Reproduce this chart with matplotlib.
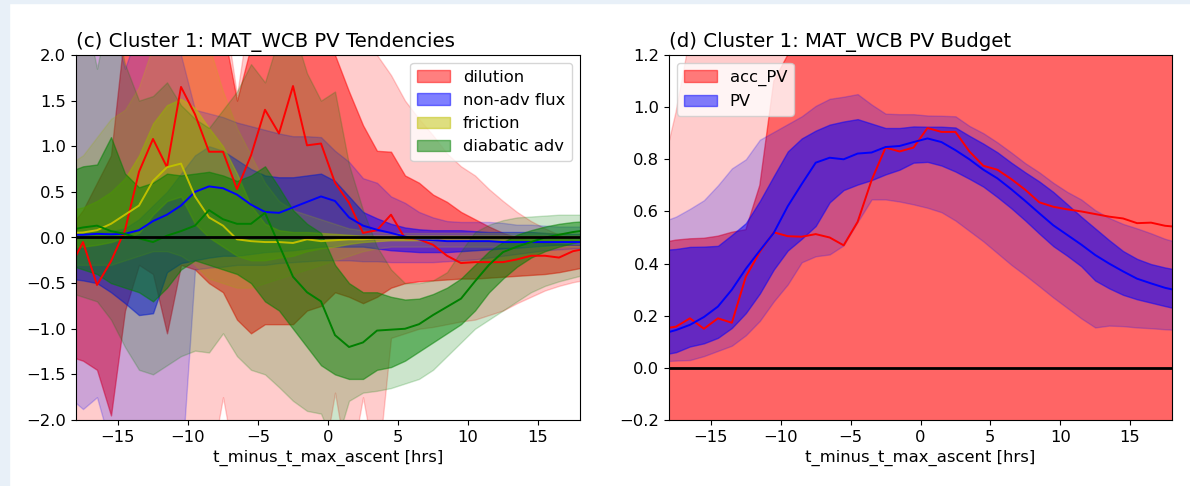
import numpy as np
import matplotlib
matplotlib.use('Agg')
import matplotlib.pyplot as plt
from matplotlib.patches import Rectangle

# hours relative to time of max ascent (bin centres)
hrs = np.arange(-18.5, 19.0, 1.0)

# ---- panel (c): PV tendencies, median + inner/outer percentile bands ----
dil_med = [-0.35, -0.05, -0.52, -0.26, 0.08, 0.72, 1.08, 0.77, 1.65, 1.35, 0.94, 0.94, 0.53, 0.9, 1.4, 1.14, 1.66, 1.01, 1.03,
           0.6, 0.38, 0.05, 0.08, 0.25, -0.01, -0.02, -0.08, -0.2, -0.28, -0.27, -0.27, -0.27, -0.24, -0.2, -0.2, -0.22, -0.15, -0.12]
dil_in_hi = [0.1, 0.3, 0.6, 0.9, 2.3, 2.6, 2.4, 2.5, 2.6, 2.6, 2.5, 2.3, 1.5, 2.1, 2.4, 2.3, 2.4, 2.3, 2.2,
             2.0, 1.6, 1.23, 0.95, 0.94, 0.68, 0.6, 0.47, 0.39, 0.28, 0.2, 0.12, 0.05, 0.0, -0.04, -0.06, -0.07, -0.08, -0.08]
dil_in_lo = [-1.3, -1.35, -1.45, -1.95, -0.8, -0.3, -0.4, -1.05, -0.3, -0.35, -0.5, -0.6, -0.9, -1.05, -0.95, -0.95, -0.95, -0.8, -0.75,
             -0.6, -0.65, -0.72, -0.65, -0.55, -0.5, -0.48, -0.47, -0.46, -0.45, -0.45, -0.44, -0.43, -0.42, -0.41, -0.4, -0.38, -0.35, -0.32]
dil_out_hi = [2.6, 2.6, 2.6, 2.6, 2.6, 2.6, 2.6, 2.6, 2.6, 2.6, 2.6, 2.6, 1.56, 2.6, 2.6, 2.6, 2.6, 2.6, 2.6,
              2.6, 2.6, 2.3, 2.0, 1.78, 1.5, 1.3, 1.12, 0.92, 0.78, 0.68, 0.53, 0.4, 0.28, 0.18, 0.1, 0.03, -0.03, -0.06]
dil_out_lo = [-2.6, -2.6, -2.6, -2.6, -2.6, -2.6, -2.6, -2.6, -2.6, -2.6, -2.6, -1.75, -2.6, -2.6, -2.6, -2.6, -2.6, -2.6, -2.6,
              -1.7, -2.6, -1.75, -2.6, -1.1, -1.05, -1.0, -0.98, -0.95, -0.92, -0.9, -0.85, -0.8, -0.72, -0.65, -0.58, -0.53, -0.49, -0.46]

flux_med = [0.03, 0.03, 0.04, 0.035, 0.04, 0.08, 0.18, 0.25, 0.35, 0.5, 0.56, 0.54, 0.47, 0.36, 0.28, 0.27, 0.33, 0.39, 0.45,
            0.4, 0.22, 0.13, 0.085, 0.05, 0.01, -0.02, -0.03, -0.04, -0.04, -0.04, -0.04, -0.05, -0.05, -0.05, -0.05, -0.05, -0.05, -0.05]
flux_in_hi = [0.05, 0.05, 0.06, 0.07, 0.1, 0.2, 0.35, 0.5, 0.7, 0.9, 1.0, 0.95, 0.85, 0.75, 0.68, 0.66, 0.66, 0.68, 0.7,
              0.62, 0.45, 0.28, 0.21, 0.15, 0.11, 0.09, 0.08, 0.08, 0.08, 0.07, 0.06, 0.06, 0.06, 0.06, 0.05, 0.04, 0.04, 0.04]
flux_in_lo = [-0.45, -0.47, -0.5, -0.6, -0.72, -0.85, -0.83, -0.38, -0.28, -0.25, -0.22, -0.2, -0.2, -0.18, -0.16, -0.15, -0.14, -0.12, -0.1,
              -0.1, -0.1, -0.1, -0.12, -0.14, -0.15, -0.16, -0.16, -0.16, -0.15, -0.14, -0.13, -0.12, -0.11, -0.1, -0.09, -0.08, -0.08, -0.08]
flux_out_hi = [2.6, 2.6, 2.4, 2.4, 1.85, 2.3, 2.3, 2.2, 2.0, 1.4, 1.36, 1.32, 1.26, 1.22, 1.18, 1.14, 1.11, 1.11, 1.1,
               0.95, 0.83, 0.65, 0.6, 0.45, 0.38, 0.28, 0.22, 0.18, 0.17, 0.17, 0.17, 0.16, 0.14, 0.14, 0.13, 0.12, 0.12, 0.12]
flux_out_lo = [-1.75, -1.88, -1.75, -2.3, -2.6, -2.6, -2.6, -2.6, -2.6, -0.35, -0.33, -0.32, -0.3, -0.3, -0.3, -0.28, -0.27, -0.26, -0.25,
               -0.25, -0.25, -0.26, -0.26, -0.27, -0.27, -0.27, -0.27, -0.26, -0.25, -0.24, -0.22, -0.2, -0.18, -0.16, -0.14, -0.13, -0.12, -0.12]

fric_med = [0.05, 0.055, 0.08, 0.15, 0.25, 0.35, 0.62, 0.77, 0.81, 0.45, 0.22, 0.13, -0.02, -0.04, -0.05, -0.05, -0.06, -0.02, -0.04,
            -0.03, -0.02, -0.02, -0.01, -0.01, -0.01, -0.01, -0.01, 0.0, 0.0, 0.0, 0.0, 0.0, 0.0, 0.0, 0.0, 0.0, 0.0, 0.0]
fric_in_hi = [0.3, 0.33, 0.4, 0.5, 0.65, 0.9, 1.25, 1.45, 1.52, 1.42, 1.2, 1.0, 0.7, 0.35, 0.15, 0.08, 0.06, 0.06, 0.05,
              0.04, 0.03, 0.02, 0.02, 0.02, 0.02, 0.02, 0.02, 0.02, 0.02, 0.02, 0.02, 0.02, 0.02, 0.02, 0.02, 0.02, 0.02, 0.02]
fric_in_lo = [-0.1, -0.1, -0.08, -0.05, 0.0, 0.05, 0.25, 0.4, 0.45, 0.15, 0.0, -0.1, -0.2, -0.25, -0.25, -0.22, -0.2, -0.15, -0.12,
              -0.1, -0.07, -0.05, -0.04, -0.03, -0.03, -0.03, -0.03, -0.03, -0.03, -0.03, -0.03, -0.03, -0.03, -0.03, -0.03, -0.03, -0.03, -0.03]
fric_out_hi = [0.8, 0.9, 1.1, 1.3, 1.4, 1.65, 2.1, 2.5, 2.5, 2.4, 2.1, 1.6, 1.2, 0.9, 0.6, 0.4, 0.3, 0.25, 0.2,
               0.15, 0.1, 0.08, 0.06, 0.05, 0.05, 0.05, 0.05, 0.05, 0.05, 0.05, 0.05, 0.05, 0.05, 0.05, 0.05, 0.05, 0.05, 0.05]
fric_out_lo = [-0.3, -0.3, -0.3, -0.3, -0.25, -0.2, -0.15, -0.15, -0.2, -0.3, -0.45, -0.5, -0.55, -0.55, -0.5, -0.45, -0.4, -0.35, -0.3,
               -0.25, -0.2, -0.15, -0.12, -0.1, -0.1, -0.1, -0.1, -0.1, -0.1, -0.1, -0.1, -0.1, -0.1, -0.1, -0.1, -0.1, -0.1, -0.1]

diab_med = [0.08, 0.11, 0.13, 0.07, 0.04, -0.01, -0.05, 0.02, 0.07, 0.13, 0.3, 0.2, 0.15, 0.15, 0.27, -0.08, -0.43, -0.6, -0.7,
            -1.07, -1.2, -1.15, -1.02, -1.01, -1.0, -0.95, -0.85, -0.76, -0.67, -0.48, -0.3, -0.16, -0.1, -0.05, 0.0, 0.03, 0.06, 0.08]
diab_in_hi = [0.72, 0.78, 0.8, 1.1, 0.7, 0.55, 0.6, 0.7, 0.68, 0.7, 0.72, 0.68, 0.62, 0.68, 0.78, 0.55, 0.3, 0.15, 0.05,
              -0.3, -0.5, -0.6, -0.6, -0.65, -0.68, -0.67, -0.62, -0.55, -0.45, -0.3, -0.15, -0.05, 0.03, 0.08, 0.12, 0.15, 0.17, 0.18]
diab_in_lo = [-0.3, -0.35, -0.4, -0.5, -0.55, -0.6, -0.7, -0.55, -0.35, -0.25, -0.3, -0.35, -0.4, -0.5, -0.7, -0.8, -1.0, -1.2, -1.4,
              -1.5, -1.55, -1.55, -1.45, -1.42, -1.35, -1.25, -1.15, -1.05, -0.95, -0.8, -0.6, -0.45, -0.32, -0.22, -0.15, -0.1, -0.06, -0.04]
diab_out_hi = [2.6, 2.6, 1.85, 2.6, 1.9, 1.5, 1.55, 1.7, 1.45, 1.3, 1.2, 1.4, 1.6, 1.9, 1.7, 2.2, 2.3, 1.8, 1.5,
               1.6, 0.8, 0.3, -0.1, -0.35, -0.5, -0.5, -0.47, -0.38, -0.15, 0.06, 0.14, 0.19, 0.22, 0.23, 0.24, 0.25, 0.25, 0.25]
diab_out_lo = [-0.6, -0.65, -0.7, -0.9, -1.2, -1.45, -1.5, -1.4, -1.3, -1.24, -1.26, -1.05, -1.3, -1.45, -1.5, -1.64, -1.79, -1.9, -1.93,
               -2.3, -1.79, -1.7, -1.68, -1.65, -1.6, -1.55, -1.45, -1.3, -1.15, -1.0, -0.9, -0.8, -0.7, -0.6, -0.53, -0.48, -0.44, -0.4]

# ---- panel (d): PV budget ----
acc_med = [0.15, 0.158, 0.19, 0.15, 0.19, 0.173, 0.35, 0.445, 0.52, 0.505, 0.503, 0.513, 0.5, 0.47, 0.56, 0.72, 0.845, 0.83, 0.845,
           0.92, 0.905, 0.905, 0.83, 0.775, 0.76, 0.724, 0.683, 0.635, 0.618, 0.608, 0.6, 0.59, 0.58, 0.573, 0.555, 0.557, 0.545, 0.54]
acc_in_hi = [0.48, 0.49, 0.495, 0.497, 0.505, 0.52, 0.53, 0.7, 1.1, 1.2, 1.4, 1.6, 1.7, 1.8, 1.9, 2.0, 2.0, 2.0, 2.0,
             2.0, 2.0, 2.0, 2.0, 2.0, 2.0, 2.0, 2.0, 2.0, 2.0, 2.0, 2.0, 2.0, 2.0, 2.0, 2.0, 2.0, 2.0, 2.0]
acc_in_lo = [-0.4] * 38
acc_out_hi = [0.75, 0.98, 1.27, 1.6, 2.0, 2.2, 2.4, 2.5, 2.6, 2.6, 2.6, 2.6, 2.6, 2.6, 2.6, 2.6, 2.6, 2.6, 2.6,
              2.6, 2.6, 2.6, 2.6, 2.6, 2.6, 2.6, 2.6, 2.6, 2.6, 2.6, 2.6, 2.6, 2.6, 2.6, 2.6, 2.6, 2.6, 2.6]
acc_out_lo = [-0.8] * 38

pv_med = [0.13, 0.145, 0.165, 0.195, 0.235, 0.3, 0.38, 0.45, 0.518, 0.62, 0.705, 0.787, 0.806, 0.8, 0.822, 0.826, 0.847, 0.851, 0.866,
          0.88, 0.866, 0.835, 0.8, 0.76, 0.727, 0.685, 0.64, 0.593, 0.547, 0.51, 0.473, 0.433, 0.4, 0.37, 0.342, 0.324, 0.307, 0.295]
pv_in_hi = [0.452, 0.456, 0.464, 0.465, 0.468, 0.51, 0.555, 0.64, 0.736, 0.83, 0.88, 0.91, 0.933, 0.945, 0.954, 0.937, 0.92, 0.92, 0.926,
            0.925, 0.925, 0.922, 0.89, 0.86, 0.827, 0.787, 0.75, 0.715, 0.675, 0.628, 0.58, 0.535, 0.49, 0.448, 0.418, 0.398, 0.385, 0.375]
pv_in_lo = [0.05, 0.06, 0.082, 0.094, 0.115, 0.153, 0.21, 0.285, 0.377, 0.45, 0.495, 0.544, 0.635, 0.682, 0.703, 0.72, 0.742, 0.76, 0.787,
            0.79, 0.776, 0.753, 0.725, 0.695, 0.655, 0.612, 0.565, 0.515, 0.467, 0.43, 0.39, 0.335, 0.305, 0.28, 0.263, 0.25, 0.237, 0.225]
pv_out_hi = [0.56, 0.58, 0.61, 0.643, 0.7, 0.765, 0.8, 0.875, 0.905, 0.935, 0.965, 1.005, 1.032, 1.04, 1.05, 1.01, 0.975, 0.973, 0.973,
             0.968, 0.967, 0.965, 0.928, 0.9, 0.865, 0.826, 0.785, 0.75, 0.71, 0.675, 0.646, 0.605, 0.575, 0.552, 0.535, 0.516, 0.495, 0.48]
pv_out_lo = [0.025, 0.028, 0.03, 0.045, 0.065, 0.085, 0.125, 0.18, 0.255, 0.32, 0.405, 0.428, 0.435, 0.47, 0.56, 0.646, 0.646, 0.638, 0.627,
             0.614, 0.597, 0.565, 0.525, 0.485, 0.44, 0.395, 0.355, 0.313, 0.27, 0.23, 0.19, 0.155, 0.162, 0.16, 0.155, 0.152, 0.148, 0.145]

tend_series = [
    ('dilution', 'r', dil_med, dil_in_lo, dil_in_hi, dil_out_lo, dil_out_hi),
    ('non-adv flux', 'b', flux_med, flux_in_lo, flux_in_hi, flux_out_lo, flux_out_hi),
    ('friction', 'y', fric_med, fric_in_lo, fric_in_hi, fric_out_lo, fric_out_hi),
    ('diabatic adv', 'g', diab_med, diab_in_lo, diab_in_hi, diab_out_lo, diab_out_hi),
]
budget_series = [
    ('acc_PV', 'r', acc_med, acc_in_lo, acc_in_hi, acc_out_lo, acc_out_hi),
    ('PV', 'b', pv_med, pv_in_lo, pv_in_hi, pv_out_lo, pv_out_hi),
]

FS = 11.8


def plot_bands(ax, series):
    # shaded bands first, median lines on top
    for nome, cor, med, in_lo, in_hi, out_lo, out_hi in series:
        ax.fill_between(hrs, in_lo, in_hi, color=cor, alpha=0.5, label=nome)
        ax.fill_between(hrs, out_lo, out_hi, color=cor, alpha=0.2)
    for nome, cor, med, in_lo, in_hi, out_lo, out_hi in series:
        ax.plot(hrs, med, color=cor, lw=1.4)
    ax.axhline(0, color='k', lw=2)
    ax.set_xlim(-18, 18)
    ax.set_xlabel('t_minus_t_max_ascent [hrs]', fontsize=FS)
    ax.tick_params(labelsize=FS)


fig = plt.figure(figsize=(11.9, 4.86), dpi=100)
fig.patches.append(Rectangle((0, 0), 9 / 1190, 1, transform=fig.transFigure, color='#e8f0f8', zorder=0))
fig.patches.append(Rectangle((0, 1 - 3 / 486), 1, 3 / 486, transform=fig.transFigure, color='#e8f0f8', zorder=0))

ax1 = fig.add_axes([76 / 1190, 66 / 486, 504 / 1190, 365 / 486])
plot_bands(ax1, tend_series)
ax1.set_ylim(-2, 2)
ax1.set_title('(c) Cluster 1: MAT_WCB PV Tendencies', loc='left', fontsize=14.2)
ax1.legend(loc='upper right', fontsize=FS)

ax2 = fig.add_axes([669 / 1190, 66 / 486, 503 / 1190, 365 / 486])
plot_bands(ax2, budget_series)
ax2.set_ylim(-0.2, 1.2)
ax2.set_title('(d) Cluster 1: MAT_WCB PV Budget', loc='left', fontsize=14.2)
ax2.legend(loc='upper left', fontsize=FS)

fig.savefig('out.png', dpi=100)
